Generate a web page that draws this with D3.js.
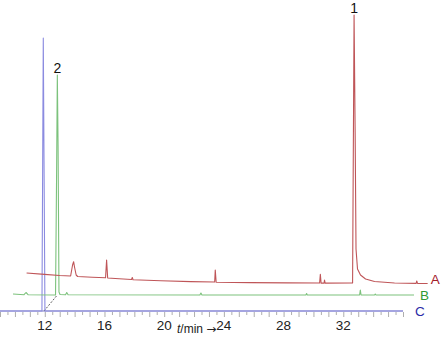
<!DOCTYPE html>
<html>
<head>
<meta charset="utf-8">
<script src="https://cdn.jsdelivr.net/npm/d3@7"></script>
<style>
  body { margin: 0; background: #fff; }
  svg { display: block; font-family: "Liberation Sans", Arial, sans-serif; }
</style>
</head>
<body>
<div id="canvas"></div>
<script>
// ---- data: [time (min, in each trace's own frame), signal] ----
const traceA = [
  [9.00, 6], [10.2, 4.6], [11.21, 3.5], [11.95, 3], [12.08, 14], [12.15, 17.3], [12.21, 12],
  [12.32, 4], [12.42, 2.5], [13.4, 1.8], [14.29, 1.2], [14.36, 19], [14.43, 1],
  [15.2, 0.2], [16.03, -0.5], [16.08, 1.5], [16.13, -0.7], [18.0, -1.8], [20.0, -2.6],
  [21.6, -3], [21.64, 9], [21.7, -3.2], [24.0, -3.6], [26.5, -3.9],
  [28.63, -4], [28.68, 4.7], [28.73, -4.1], [28.93, -4.1], [28.96, -1], [29.0, -4.1],
  [30.84, -4], [30.94, 264], [31.01, 150], [31.07, 30], [31.17, 10], [31.37, 4],
  [31.71, 0], [32.31, -2.5], [33.65, -4], [35.1, -4.4], [35.14, -2], [35.19, -4.4], [35.87, -4.5]
];
const traceB = [
  [8.98, 1], [9.72, 0.3], [9.85, 2.5], [9.99, 0.3], [11.83, 0], [11.9, 120], [11.95, 220],
  [12.0, 150], [12.06, 3], [12.13, 0.5], [12.5, 0.3], [12.58, 2.5], [12.67, 0.3],
  [21.5, 0], [21.57, 2], [21.64, 0], [28.6, 0], [28.65, 1.5], [28.7, 0],
  [32.2, 0], [32.25, 5], [32.3, 0], [33.2, 0], [33.25, 1], [33.3, 0], [35.85, 0]
];
const traceC = [
  [9.0, 0], [11.81, 0], [11.86, 150], [11.9, 273], [11.95, 150], [12.01, 0], [36.0, 0]
];
const traceNames = ["A", "B", "C"];
const peakLabels = [{ trace: "A", t: 30.94, s: 264, text: "1" }, { trace: "B", t: 11.95, s: 220, text: "2" }];
const tickLabels = [12, 16, 20, 24, 28, 32];

// ---- layout ----
const width = 444, height = 337;
const baseY = 311;            // baseline of trace C / axis line
const stepX = 13.3, stepY = 16; // oblique offset per trace

const x = d3.scaleLinear().domain([9, 36]).range([0, 403]);
const y = d3.scaleLinear().domain([0, 300]).range([baseY, baseY - 300]);

const traces = [
  { name: "A", data: traceA, off: 2, color: "#bf5558", labelColor: "#a3202b", gap: 3 },
  { name: "B", data: traceB, off: 1, color: "#7cc27c", labelColor: "#2f9a35", gap: 6 },
  { name: "C", data: traceC, off: 0, color: "#8b8be0", labelColor: "#2a2aa6", gap: 12 }
];

const svg = d3.select('#canvas').append('svg')
  .attr('width', width).attr('height', height);

// ---- axis (trace C sits on it) ----
const axis = svg.append('g');
axis.append('line')
  .attr('x1', x(9)).attr('x2', x(36))
  .attr('y1', baseY).attr('y2', baseY)
  .attr('stroke', '#a9a9d6').attr('stroke-width', 1.6);

const ticks = d3.range(9, 36.01, 0.5);
axis.selectAll('.tick').data(ticks).join('line')
  .attr('x1', d => x(d) + 0.5).attr('x2', d => x(d) + 0.5)
  .attr('y1', baseY + 1)
  .attr('y2', d => baseY + (d % 1 === 0 ? 6 : 4))
  .attr('stroke', '#999').attr('stroke-width', 0.8);

axis.selectAll('.tlabel').data(tickLabels).join('text')
  .attr('x', d => x(d)).attr('y', 330)
  .attr('text-anchor', 'middle')
  .attr('font-size', 13.5).attr('fill', '#222')
  .text(d => d);

const title = axis.append('text')
  .attr('x', 177).attr('y', 333)
  .attr('font-size', 12).attr('fill', '#222');
title.append('tspan').attr('font-style', 'italic').text('t');
title.append('tspan').text('/min ');
title.append('tspan').attr('font-family', 'DejaVu Sans').attr('font-size', 12).text('\u2192');

// ---- offset guide (dashed) ----
svg.append('line')
  .attr('x1', x(11.95)).attr('y1', baseY)
  .attr('x2', x(11.95) + stepX).attr('y2', baseY - stepY)
  .attr('stroke', '#333').attr('stroke-width', 0.8)
  .attr('stroke-dasharray', '2,1.5');

// ---- traces ----
const line = d3.line().x(d => x(d[0])).y(d => y(d[1]));

traces.slice().reverse().forEach(tr => {
  const g = svg.append('g')
    .attr('transform', `translate(${tr.off * stepX},${-tr.off * stepY})`);
  g.append('path')
    .datum(tr.data)
    .attr('d', line)
    .attr('fill', 'none')
    .attr('stroke', tr.color)
    .attr('stroke-width', 1.1)
    .attr('stroke-linejoin', 'round');
  const last = tr.data[tr.data.length - 1];
  g.append('text')
    .attr('x', x(last[0]) + tr.gap).attr('y', baseY + 5)
    .attr('font-size', 13.5).attr('fill', tr.labelColor)
    .text(tr.name);

  peakLabels.filter(p => p.trace === tr.name).forEach(p => {
    g.append('text')
      .attr('x', x(p.t)).attr('y', y(p.s) - 2)
      .attr('text-anchor', 'middle')
      .attr('font-size', 14).attr('fill', '#111')
      .text(p.text);
  });
});
</script>
</body>
</html>
